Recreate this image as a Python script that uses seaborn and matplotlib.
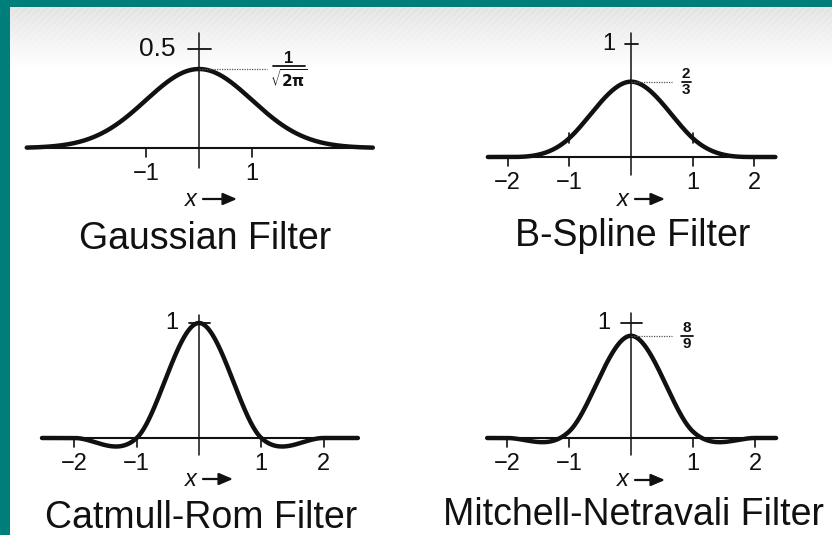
import numpy as np
import matplotlib
matplotlib.use("Agg")
import matplotlib.pyplot as plt
import seaborn as sns

# ---- filter definitions -------------------------------------------------
FILTER_TITLES = ["Gaussian Filter", "B-Spline Filter",
                 "Catmull-Rom Filter", "Mitchell-Netravali Filter"]
GAUSS_SIGMA = 1.0
# (B, C) parameters of the cubic family for the three cubic filters
CUBIC_B = [1.0, 0.0, 1 / 3]
CUBIC_C = [0.0, 0.5, 1 / 3]

# axis ticks and their labels
GAUSS_XTICKS = [-1, 1]
GAUSS_XLABELS = ["\u22121", "1"]
CUBIC_XTICKS = [-2, -1, 1, 2]
CUBIC_XLABELS = ["\u22122", "\u22121", "1", "2"]
GAUSS_YTICK, GAUSS_YLABEL = 0.5, "0.5"
CUBIC_YTICK, CUBIC_YLABEL = 1.0, "1"

# peak value annotations (numerator, denominator); None = no annotation
PEAK_LABELS = [("1", r"$\mathbf{\sqrt{2\pi}}$"), ("2", "3"), None, ("8", "9")]


def gaussian(x, s):
    return np.exp(-0.5 * (x / s) ** 2) / (s * np.sqrt(2 * np.pi))


def cubic(x, B, C):
    a = np.abs(x)
    k = np.zeros_like(a)
    m1 = a < 1
    m2 = (a >= 1) & (a < 2)
    k[m1] = ((12 - 9 * B - 6 * C) * a[m1] ** 3
             + (-18 + 12 * B + 6 * C) * a[m1] ** 2 + (6 - 2 * B))
    k[m2] = ((-B - 6 * C) * a[m2] ** 3 + (6 * B + 30 * C) * a[m2] ** 2
             + (-12 * B - 48 * C) * a[m2] + (8 * B + 24 * C))
    return k / 6


# ---- figure -------------------------------------------------------------
sns.set_theme(style="white")
plt.rcParams["font.family"] = ["Liberation Sans", "DejaVu Sans"]

W, H = 832, 535
fig = plt.figure(figsize=(W / 100, H / 100), dpi=100)

# slide background: teal frame, soft grey band at the top
bg = fig.add_axes([0, 0, 1, 1])
bg.axis("off")
img = np.ones((H, W, 3))
yy, xx = np.mgrid[0:H, 0:W]
t = np.clip((yy - 7) / 60.0, 0, 1)
stripes = 0.012 * np.sin((xx + yy) * 2 * np.pi / 7.0) * (1 - t)
shade = 0.895 + 0.105 * t ** 0.9 + stripes
img *= np.clip(shade, 0, 1)[..., None]
teal = np.array([0.0, 0.50, 0.48])
img[:7, :] = teal
img[:, :10] = teal
bg.imshow(img, extent=(0, W, H, 0), aspect="auto", interpolation="bilinear")
bg.set_xlim(0, W)
bg.set_ylim(H, 0)

INK = "#111111"

# panel layout: quadrant box (px), origin (px) and px per data unit
PANELS = [
    dict(box=(10, 7, 416, 268), x0=199, ux=53.0, y0=148, uy=198.0,
         base=(-3.25, 3.28), vert=(-0.10, 0.58), ycross=11,
         ylab_gap=24, frac_dx=90, lead=68, frac_w=32,
         title=(205, 249), arrow_len=34, cap=51),
    dict(box=(416, 7, 832, 268), x0=631, ux=61.7, y0=157, uy=113.0,
         base=(-2.32, 2.34), vert=(-0.16, 1.10), ycross=6,
         ylab_gap=16, frac_dx=55, lead=41, frac_w=9,
         title=(633, 246), arrow_len=30, cap=42),
    dict(box=(10, 268, 416, 535), x0=199, ux=62.3, y0=438, uy=115.0,
         base=(-2.52, 2.55), vert=(-0.15, 1.07), ycross=10,
         ylab_gap=21, frac_dx=0, lead=0, frac_w=0,
         title=(201, 528), arrow_len=30, cap=41),
    dict(box=(416, 268, 832, 535), x0=631, ux=62.0, y0=438, uy=115.0,
         base=(-2.32, 2.34), vert=(-0.15, 1.09), ycross=10,
         ylab_gap=21, frac_dx=56, lead=41, frac_w=12,
         title=(633, 525), arrow_len=30, cap=42),
]

for i, p in enumerate(PANELS):
    L, T, R, B = p["box"]
    ux, uy = p["ux"], p["uy"]
    ax = fig.add_axes([L / W, 1 - B / H, (R - L) / W, (B - T) / H])
    ax.set_xlim((L - p["x0"]) / ux, (R - p["x0"]) / ux)
    ax.set_ylim((p["y0"] - B) / uy, (p["y0"] - T) / uy)
    ax.axis("off")

    if i == 0:
        xt, xl = GAUSS_XTICKS, GAUSS_XLABELS
        yt, yl = GAUSS_YTICK, GAUSS_YLABEL
        ylab_size = 19
    else:
        xt, xl = CUBIC_XTICKS, CUBIC_XLABELS
        yt, yl = CUBIC_YTICK, CUBIC_YLABEL
        ylab_size = 17

    # axes lines
    ax.plot(p["base"], [0, 0], color=INK, lw=1.5, solid_capstyle="butt")
    ax.plot([0, 0], p["vert"], color=INK, lw=1.1)
    for tv, tl in zip(xt, xl):
        ax.plot([tv, tv], [0, -9 / uy], color=INK, lw=1.2)
        ax.text(tv, -26 / uy, tl, ha="center", va="center",
                fontsize=17, color=INK)
    ax.plot([-p["ycross"] / ux, (p["ycross"] + 1) / ux], [yt, yt],
            color=INK, lw=1.3)
    ax.text(-p["ylab_gap"] / ux, yt, yl, ha="right", va="center",
            fontsize=ylab_size, color=INK)

    # the filter kernel itself
    xs = np.linspace(p["base"][0], p["base"][1], 800)
    if i == 0:
        ys = gaussian(xs, GAUSS_SIGMA)
        peak = gaussian(np.array([0.0]), GAUSS_SIGMA)[0]
    else:
        ys = cubic(xs, CUBIC_B[i - 1], CUBIC_C[i - 1])
        peak = cubic(np.array([0.0]), CUBIC_B[i - 1], CUBIC_C[i - 1])[0]
    sns.lineplot(x=xs, y=ys, ax=ax, color=INK, lw=3.2, sort=False,
                 estimator=None)

    # knot marks on the B-spline curve
    if i == 1:
        for kx in (-1, 1):
            ky = cubic(np.array([float(kx)]), CUBIC_B[0], CUBIC_C[0])[0]
            ax.plot([kx, kx], [ky - 5 / uy, ky + 5 / uy], color=INK, lw=1.2)

    # peak value annotation
    lab = PEAK_LABELS[i]
    if lab is not None:
        ax.plot([0, p["lead"] / ux], [peak, peak], color="#555555",
                lw=0.9, ls=(0, (1, 1)))
        fx = p["frac_dx"] / ux
        if i == 0:
            ny, by, dy = peak + 11 / uy, peak + 3 / uy, peak - 10 / uy
            fsz_n, fsz_d = 12, 11
        else:
            ny, by, dy = peak + 7.5 / uy, peak - 0.5 / uy, peak - 8 / uy
            fsz_n, fsz_d = 11, 11
        ax.text(fx, ny, lab[0], ha="center", va="center",
                fontsize=fsz_n, fontweight="bold", color=INK)
        ax.plot([fx - p["frac_w"] / 2 / ux, fx + p["frac_w"] / 2 / ux],
                [by, by], color=INK, lw=1.3)
        ax.text(fx, dy, lab[1], ha="center", va="center",
                fontsize=fsz_d, fontweight="bold", color=INK)

    # "x ->" axis caption
    cy = -p["cap"] / uy
    ax.text(-8 / ux, cy, "x", ha="center", va="center", fontsize=17,
            style="italic", color=INK)
    ax.annotate("", xy=((4 + p["arrow_len"]) / ux, cy),
                xytext=(4 / ux, cy),
                arrowprops=dict(arrowstyle="-|>,head_length=0.7,head_width=0.3",
                                color=INK, lw=1.6, shrinkA=0, shrinkB=0))

    # filter name
    tx, ty = p["title"]
    fig.text(tx / W, 1 - ty / H, FILTER_TITLES[i], ha="center",
             va="baseline", fontsize=27, color=INK)

fig.savefig("out.png", dpi=100)
